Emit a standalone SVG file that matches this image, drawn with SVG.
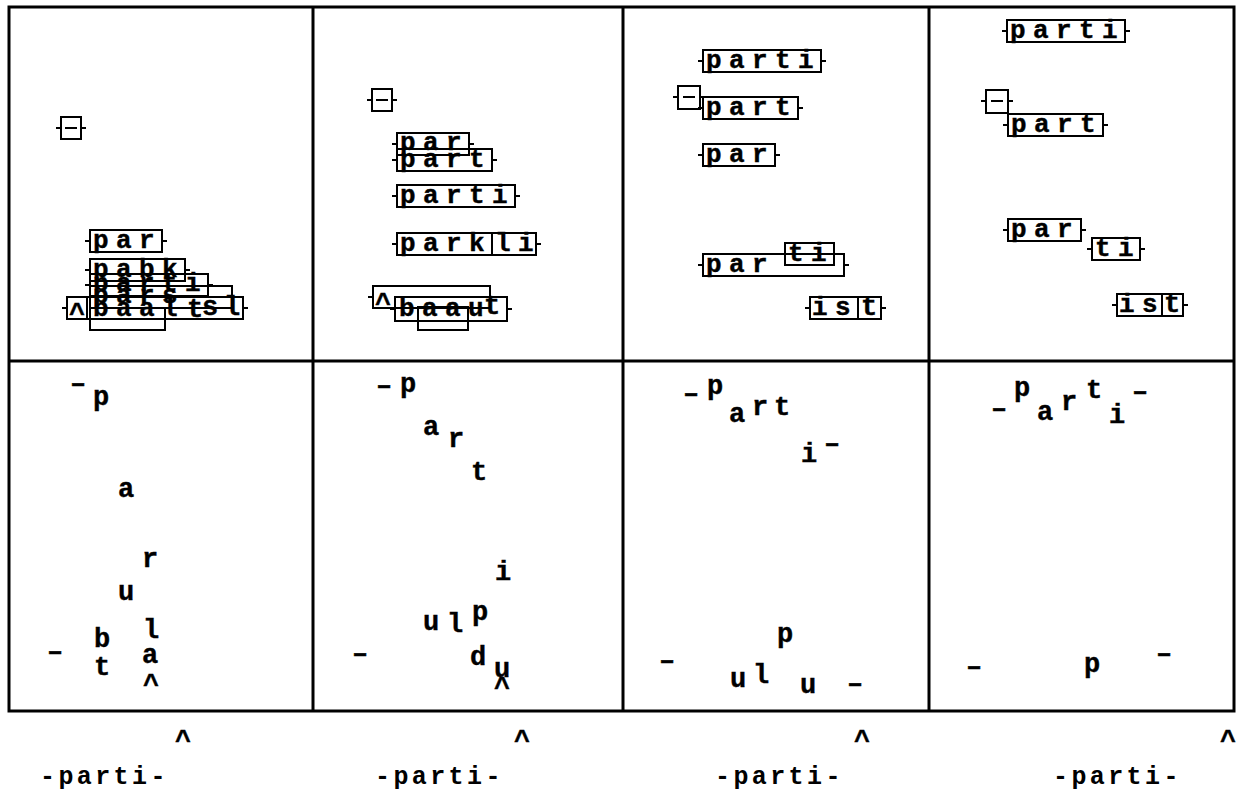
<svg xmlns="http://www.w3.org/2000/svg" width="1237" height="799" viewBox="0 0 1237 799">
  <style>
    .frame { fill: none; stroke: #000; stroke-width: 3; }
    .rule { stroke: #000; stroke-width: 3; }
    .bx { fill: none; stroke: #000; stroke-width: 2; }
    .tk { stroke: #000; stroke-width: 2; fill: none; }
    .w { font-family: "Liberation Mono", "Courier New", monospace; font-weight: bold; font-size: 26px; letter-spacing: 7.4px; fill: #000; stroke: #000; stroke-width: 0.4; }
    .c { font-family: "Liberation Mono", "Courier New", monospace; font-weight: bold; font-size: 27px; text-anchor: middle; fill: #000; stroke: #000; stroke-width: 0.4; }
    .ft { font-family: "Liberation Mono", "Courier New", monospace; font-weight: bold; font-size: 25px; letter-spacing: 3.4px; fill: #000; }
  </style>

  <rect id="bg" x="0" y="0" width="1237" height="799" fill="#fff"/>

  <!-- grid frame: 4 columns x 2 rows -->
  <g id="grid">
    <rect class="frame" x="9" y="7" width="1225" height="704"/>
    <line class="rule" x1="313" y1="7" x2="313" y2="711"/>
    <line class="rule" x1="623" y1="7" x2="623" y2="711"/>
    <line class="rule" x1="929" y1="7" x2="929" y2="711"/>
    <line class="rule" x1="9" y1="361" x2="1234" y2="361"/>
  </g>

  <!-- ===== top row: boxed hypotheses ===== -->
  <g id="panel-1-top">
    <rect class="bx" x="61" y="117" width="20" height="22"/>
    <path class="tk" d="M56 128h5M81 128h5"/>
    <path class="tk" d="M65 128h12" stroke-width="2.5"/>

    <rect class="bx" x="90" y="230" width="72" height="22"/>
    <path class="tk" d="M85 241h5M162 241h5"/>
    <text class="w" x="93" y="248">par</text>

    <rect class="bx" x="90" y="259" width="95" height="22"/>
    <path class="tk" d="M85 270h5M185 270h5"/>
    <text class="w" x="93" y="277">pabk</text>

    <rect class="bx" x="90" y="274" width="118" height="22"/>
    <path class="tk" d="M85 285h5M208 285h5"/>
    <text class="w" x="93" y="291">parti</text>

    <rect class="bx" x="90" y="286" width="142" height="22"/>
    <path class="tk" d="M85 297h5M232 297h5"/>
    <text class="w" x="93" y="303">pars</text>

    <rect class="bx" x="67" y="297" width="176" height="22"/>
    <path class="tk" d="M62 308h5M243 308h5"/>
    <rect class="bx" x="67" y="297" width="20" height="22"/>
    <text class="c" x="77" y="322">^</text>
    <text class="w" x="93" y="316">baal</text>
    <text class="c" x="195" y="317">t</text>
    <text class="c" x="210" y="315">s</text>
    <text class="c" x="232" y="315">l</text>

    <rect class="bx" x="90" y="308" width="75" height="22"/>
  </g>

  <g id="panel-2-top">
    <rect class="bx" x="372" y="89" width="20" height="22"/>
    <path class="tk" d="M367 100h5M392 100h5"/>
    <path class="tk" d="M376 100h12" stroke-width="2.5"/>

    <rect class="bx" x="397" y="133" width="72" height="22"/>
    <path class="tk" d="M392 144h5M469 144h5"/>
    <text class="w" x="400" y="150">par</text>

    <rect class="bx" x="397" y="149" width="95" height="22"/>
    <path class="tk" d="M392 160h5M492 160h5"/>
    <text class="w" x="400" y="167">part</text>

    <rect class="bx" x="397" y="185" width="118" height="22"/>
    <path class="tk" d="M392 196h5M515 196h5"/>
    <text class="w" x="400" y="203">parti</text>

    <rect class="bx" x="397" y="233" width="95" height="22"/>
    <rect class="bx" x="492" y="233" width="44" height="22"/>
    <path class="tk" d="M392 244h5M536 244h5"/>
    <text class="w" x="400" y="251">park</text>
    <text class="w" x="495" y="251">li</text>

    <rect class="bx" x="373" y="286" width="117" height="22"/>
    <path class="tk" d="M368 297h5"/>
    <text class="c" x="383" y="312">^</text>

    <rect class="bx" x="395" y="297" width="112" height="24"/>
    <path class="tk" d="M390 309h5M507 309h5"/>
    <text class="w" x="399" y="316">baau</text>
    <text class="c" x="492" y="314">t</text>

    <rect class="bx" x="418" y="307" width="50" height="23"/>
  </g>

  <g id="panel-3-top">
    <rect class="bx" x="703" y="50" width="118" height="22"/>
    <path class="tk" d="M698 61h5M821 61h5"/>
    <text class="w" x="706" y="68">parti</text>

    <rect class="bx" x="678" y="86" width="22" height="23"/>
    <path class="tk" d="M673 97h5M700 97h5"/>
    <path class="tk" d="M683 97h12" stroke-width="2.5"/>

    <rect class="bx" x="703" y="97" width="95" height="22"/>
    <path class="tk" d="M698 108h5M798 108h5"/>
    <text class="w" x="706" y="115">part</text>

    <rect class="bx" x="703" y="144" width="72" height="22"/>
    <path class="tk" d="M698 155h5M775 155h5"/>
    <text class="w" x="706" y="162">par</text>

    <rect class="bx" x="703" y="254" width="141" height="22"/>
    <path class="tk" d="M698 265h5M844 265h5"/>
    <text class="w" x="706" y="272">par</text>

    <rect class="bx" x="785" y="243" width="49" height="22"/>
    <text class="w" x="788" y="261">ti</text>

    <rect class="bx" x="810" y="297" width="48" height="22"/>
    <rect class="bx" x="858" y="297" width="23" height="22"/>
    <path class="tk" d="M805 308h5M881 308h5"/>
    <text class="w" x="812" y="315">is</text>
    <text class="c" x="869" y="315">t</text>
  </g>

  <g id="panel-4-top">
    <rect class="bx" x="1007" y="20" width="118" height="22"/>
    <path class="tk" d="M1002 31h5M1125 31h5"/>
    <text class="w" x="1010" y="38">parti</text>

    <rect class="bx" x="986" y="90" width="22" height="23"/>
    <path class="tk" d="M981 101h5M1008 101h5"/>
    <path class="tk" d="M991 101h12" stroke-width="2.5"/>

    <rect class="bx" x="1008" y="114" width="95" height="22"/>
    <path class="tk" d="M1003 125h5M1103 125h5"/>
    <text class="w" x="1011" y="132">part</text>

    <rect class="bx" x="1008" y="219" width="73" height="22"/>
    <path class="tk" d="M1003 230h5M1081 230h5"/>
    <text class="w" x="1011" y="237">par</text>

    <rect class="bx" x="1092" y="238" width="48" height="22"/>
    <path class="tk" d="M1087 249h5M1140 249h5"/>
    <text class="w" x="1095" y="256">ti</text>

    <rect class="bx" x="1117" y="294" width="45" height="22"/>
    <rect class="bx" x="1162" y="294" width="21" height="22"/>
    <path class="tk" d="M1112 305h5M1183 305h5"/>
    <text class="w" x="1119" y="312">is</text>
    <text class="c" x="1172" y="312">t</text>
  </g>

  <!-- ===== bottom row: scattered letters ===== -->
  <g id="panel-1-bottom">
    <text class="c" x="78" y="392">–</text>
    <text class="c" x="101" y="405">p</text>
    <text class="c" x="126" y="497">a</text>
    <text class="c" x="150" y="567">r</text>
    <text class="c" x="126" y="600">u</text>
    <text class="c" x="151" y="638">l</text>
    <text class="c" x="102" y="647">b</text>
    <text class="c" x="150" y="663">a</text>
    <text class="c" x="102" y="675">t</text>
    <text class="c" x="151" y="693">^</text>
    <text class="c" x="55" y="660">–</text>
  </g>

  <g id="panel-2-bottom">
    <text class="c" x="384" y="394">–</text>
    <text class="c" x="408" y="392">p</text>
    <text class="c" x="431" y="435">a</text>
    <text class="c" x="456" y="447">r</text>
    <text class="c" x="479" y="480">t</text>
    <text class="c" x="503" y="580">i</text>
    <text class="c" x="431" y="630">u</text>
    <text class="c" x="455" y="632">l</text>
    <text class="c" x="480" y="620">p</text>
    <text class="c" x="478" y="665">d</text>
    <text class="c" x="502" y="677">u</text>
    <text class="c" x="502" y="696">^</text>
    <text class="c" x="360" y="662">–</text>
  </g>

  <g id="panel-3-bottom">
    <text class="c" x="691" y="402">–</text>
    <text class="c" x="715" y="394">p</text>
    <text class="c" x="737" y="422">a</text>
    <text class="c" x="760" y="415">r</text>
    <text class="c" x="782" y="415">t</text>
    <text class="c" x="809" y="462">i</text>
    <text class="c" x="832" y="452">–</text>
    <text class="c" x="785" y="642">p</text>
    <text class="c" x="667" y="669">–</text>
    <text class="c" x="738" y="687">u</text>
    <text class="c" x="761" y="683">l</text>
    <text class="c" x="808" y="693">u</text>
    <text class="c" x="855" y="692">–</text>
  </g>

  <g id="panel-4-bottom">
    <text class="c" x="999" y="417">–</text>
    <text class="c" x="1022" y="396">p</text>
    <text class="c" x="1045" y="420">a</text>
    <text class="c" x="1069" y="410">r</text>
    <text class="c" x="1094" y="398">t</text>
    <text class="c" x="1117" y="423">i</text>
    <text class="c" x="1140" y="400">–</text>
    <text class="c" x="974" y="675">–</text>
    <text class="c" x="1092" y="672">p</text>
    <text class="c" x="1164" y="662">–</text>
  </g>

  <!-- ===== captions under each column ===== -->
  <g id="captions">
    <text class="c" x="183" y="749">^</text>
    <text class="c" x="522" y="749">^</text>
    <text class="c" x="862" y="749">^</text>
    <text class="c" x="1228" y="749">^</text>
    <text class="ft" x="40" y="784">-parti-</text>
    <text class="ft" x="375" y="784">-parti-</text>
    <text class="ft" x="715" y="784">-parti-</text>
    <text class="ft" x="1053" y="784">-parti-</text>
  </g>
</svg>
